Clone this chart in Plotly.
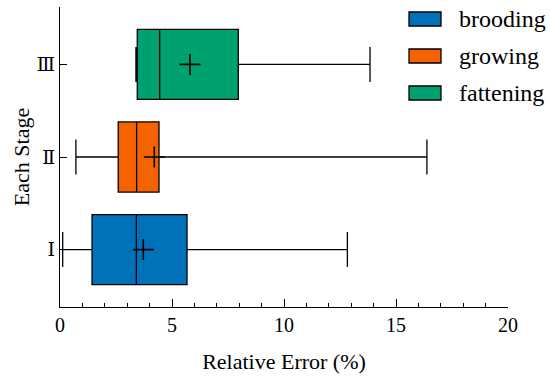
import plotly.graph_objects as go

stages = ["Ⅰ", "Ⅱ", "Ⅲ"]
names = ["brooding", "growing", "fattening"]
colors = ["#0072BA", "#F46300", "#00A170"]
lower = [0.12, 0.71, 3.39]
q1 = [1.43, 2.60, 3.45]
median = [3.41, 3.42, 4.45]
q3 = [5.67, 4.42, 7.96]
upper = [12.83, 16.38, 13.84]
mean = [3.72, 4.21, 5.80]

FONT = "Liberation Serif"
fig = go.Figure()
for i in range(3):
    fig.add_trace(go.Box(
        orientation="h", y=[i], q1=[q1[i]], median=[median[i]], q3=[q3[i]],
        lowerfence=[lower[i]], upperfence=[upper[i]], name=names[i],
        fillcolor=colors[i], line=dict(color="black", width=1.3),
        width=0.757, whiskerwidth=0.5, showlegend=False, hoverinfo="skip"))
fig.add_trace(go.Scatter(
    x=mean, y=[0, 1, 2], mode="markers", showlegend=False,
    marker=dict(symbol="cross-thin", size=15, color="black",
                line=dict(color="black", width=1.6))))

# manual legend
for i, (n, c) in enumerate(zip(names, colors)):
    yc = 19 + 37 * i
    fig.add_shape(type="rect", xref="paper", yref="paper",
                  x0=(409 - 60) / 448, x1=(441 - 60) / 448,
                  y0=(307 - (yc - 7)) / 300, y1=(307 - (yc + 7)) / 300,
                  fillcolor=c, line=dict(color="black", width=1.3))
    fig.add_annotation(xref="paper", yref="paper", x=(457 - 60) / 448,
                       y=(307 - yc) / 300, text=n, showarrow=False,
                       xanchor="left", yanchor="middle",
                       font=dict(family=FONT, size=24, color="black"))

fig.update_layout(
    width=550, height=378, margin=dict(l=60, r=42, t=7, b=71, autoexpand=False),
    plot_bgcolor="white", paper_bgcolor="white", boxmode="overlay",
    font=dict(family=FONT, size=18, color="black"),
    xaxis=dict(range=[0, 20], dtick=5, ticks="inside", ticklen=8, tickwidth=1.2,
               tickcolor="black", showline=True, linecolor="black", linewidth=1.3,
               showgrid=False, zeroline=False, automargin=False,
               tickfont=dict(size=20),
               minor=dict(dtick=1, ticks="inside", ticklen=4, tickwidth=1.2,
                          tickcolor="black", showgrid=False),
               title=dict(text="Relative Error (%)", standoff=18)),
    yaxis=dict(range=[-0.62, 2.62], tickvals=[0, 1, 2], ticktext=stages,
               tickfont=dict(family="DejaVu Serif", size=19),
               ticks="inside", ticklen=7, tickwidth=1.2, tickcolor="black",
               showline=True, linecolor="black", linewidth=1.3,
               showgrid=False, zeroline=False, automargin=False,
               title=dict(text="Each Stage", standoff=1)),
)
fig.write_html("out.html", config={"displayModeBar": False},
               post_script="document.body.style.margin='0';")
